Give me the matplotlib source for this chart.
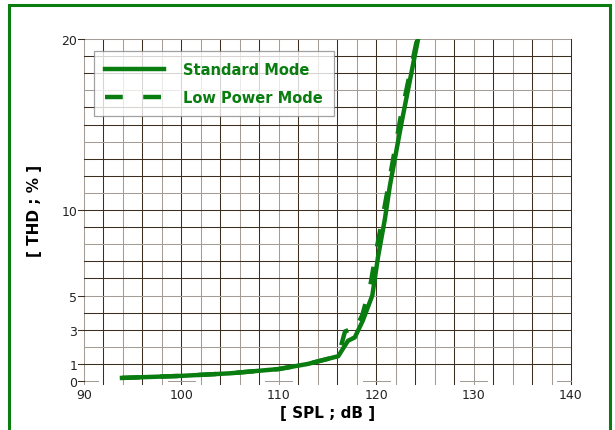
import matplotlib.pyplot as plt
from matplotlib.patches import Rectangle

# THD vs SPL
spl_std = [93.9, 100, 105, 110, 113, 116.1, 117.1, 117.8, 118.6, 119.6, 120.2, 120.9, 121.4, 122.6, 124.3]
thd_std = [0.18, 0.3, 0.45, 0.7, 1.0, 1.45, 2.35, 2.55, 3.5, 5.0, 7.3, 9.5, 11.4, 15.1, 20.0]

spl_low = [93.9, 100, 105, 110, 113, 116.1, 116.8, 117.3, 117.7, 118.6, 119.4, 120.0, 120.8, 122.5, 124.2]
thd_low = [0.18, 0.3, 0.45, 0.7, 1.0, 1.45, 2.9, 3.0, 2.8, 3.9, 5.6, 7.6, 10.0, 15.4, 20.0]

x_ticks = [90, 100, 110, 120, 130, 140]
y_ticks = [0, 1, 3, 5, 10, 20]

green = '#0a7d10'
dark = '#3b2e1e'
grey = '#a49c96'

fig = plt.figure(figsize=(6.15, 4.31), dpi=100)
fig.patches.append(Rectangle((9 / 615, -0.01), 601 / 615, 1 - 6 / 431 + 0.01,
                             transform=fig.transFigure, fill=False,
                             edgecolor=green, linewidth=2.2, zorder=0))

ax = fig.add_axes([84 / 615, 1 - 382 / 431, 487 / 615, 342 / 431])
ax.set_xlim(90, 140)
ax.set_ylim(0, 20)
for s in ax.spines.values():
    s.set_visible(False)

# grid drawn by hand so the colours can alternate like the original
for i, xv in enumerate(range(90, 141, 2)):
    ax.plot([xv, xv], [-0.2, 20], color=dark if i % 2 else grey,
            lw=0.75, clip_on=False, zorder=1)
for i, yv in enumerate(range(1, 21)):
    ax.axhline(yv, color=grey if i % 3 == 1 else dark, lw=0.75, zorder=1)
for xv in x_ticks:
    ax.plot([max(xv - 1.4, 90), min(xv + 1.4, 140)], [0, 0], color=grey,
            lw=0.75, clip_on=False, zorder=1)
for yv in y_ticks:
    ax.plot([89.4, 90], [yv, yv], color=dark, lw=0.75, clip_on=False, zorder=1)

ax.plot(spl_low, thd_low, color=green, lw=3.2, ls=(0, (4, 4.6)),
        solid_capstyle='butt', label='Low Power Mode', zorder=3)
ax.plot(spl_std, thd_std, color=green, lw=3.2, label='Standard Mode', zorder=4)

ax.set_xticks(x_ticks)
ax.set_yticks(y_ticks)
ax.tick_params(length=0, labelsize=9, colors='#222222', pad=5)
ax.set_xlabel('[ SPL ; dB ]', fontsize=11, fontweight='bold', labelpad=3)
ax.set_ylabel('[ THD ; % ]', fontsize=11, fontweight='bold', labelpad=14)

h, l = ax.get_legend_handles_labels()
leg = ax.legend(h[::-1], l[::-1], loc='upper left', bbox_to_anchor=(0.005, 0.985),
                fontsize=10.5, frameon=True, fancybox=False, handlelength=4.1,
                handletextpad=1.3, borderpad=0.75, labelspacing=0.85)
leg.get_frame().set_edgecolor('#8a8a8a')
leg.get_frame().set_linewidth(0.9)
for t in leg.get_texts():
    t.set_color(green)
    t.set_fontweight('bold')

fig.savefig('out.png', dpi=100)
